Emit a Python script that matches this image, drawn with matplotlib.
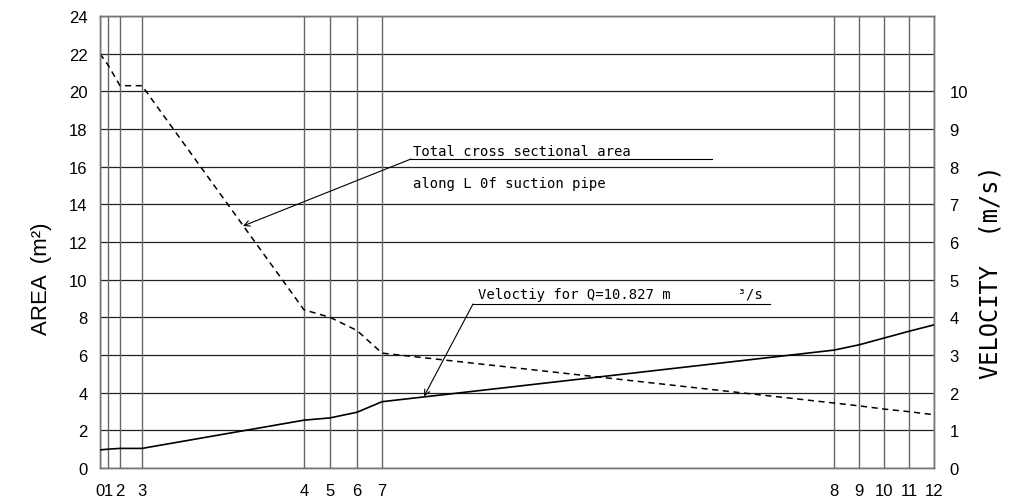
import numpy as np
import matplotlib
matplotlib.use("Agg")
import matplotlib.pyplot as plt

# station positions along the pipe (arbitrary length units) and labels
station_x = [0, 8, 20, 42, 204, 230, 257, 282, 734, 759, 784, 809, 834]
station_lbl = ["0", "1", "2", "3", "4", "5", "6", "7", "8", "9", "10", "11", "12"]

# total cross sectional area (m2) at each station
area = [22.0, 21.4, 20.3, 20.3, 8.4, 8.0, 7.3, 6.1, 3.45, 3.3, 3.13, 2.99, 2.83]
# velocity (m/s) at each station
velocity = [0.48, 0.50, 0.52, 0.52, 1.27, 1.33, 1.48, 1.76, 3.13, 3.27, 3.45, 3.63, 3.80]

area_ticks = list(range(0, 25, 2))
vel_ticks = list(range(0, 11))

W, H = 1013, 502
fig = plt.figure(figsize=(W / 100, H / 100), dpi=100)
ax = fig.add_axes([100 / W, 1 - 469 / H, (934 - 100) / W, (469 - 17) / H])
ax2 = ax.twinx()

tick_font = dict(family="Liberation Sans", size=12)

# grid
for y in area_ticks:
    ax.axhline(y, color="#222222", lw=0.9, zorder=1)
for x in station_x:
    ax.axvline(x, color="#666666", lw=1.0, zorder=1)

ax.plot(station_x, area, color="black", lw=1.1, ls=(0, (4, 3)), zorder=3)
ax2.plot(station_x, velocity, color="black", lw=1.2, zorder=3)

ax.set_xlim(station_x[0], station_x[-1])
ax.set_ylim(0, 24)
ax2.set_ylim(0, 12)

ax.set_xticks(station_x)
ax.set_xticklabels(station_lbl, fontdict=tick_font)
ax.set_yticks(area_ticks)
ax.set_yticklabels([str(v) for v in area_ticks], fontdict=tick_font)
ax2.set_yticks(vel_ticks)
ax2.set_yticklabels([str(v) for v in vel_ticks], fontdict=tick_font)

ax.tick_params(axis="x", length=0, pad=11)
ax.tick_params(axis="y", length=0, pad=9)
ax2.tick_params(axis="y", length=0, pad=11)

for a in (ax, ax2):
    for s in a.spines.values():
        s.set_color("#777777")
        s.set_linewidth(1.0)

fig.text(42 / W, 1 - 279 / H, "AREA  (m²)", rotation=90, ha="center", va="center",
         family="Liberation Sans", fontsize=16)
fig.text(990 / W, 1 - 272 / H, "VELOCITY  (m/s)", rotation=90, ha="center", va="center",
         family="DejaVu Sans Mono", fontsize=17)

# annotations (pixel-placed in figure coordinates)
def px(x, y):
    return (x / W, 1 - y / H)

mono = dict(family="DejaVu Sans Mono", fontsize=10)
fig.text(*px(413, 152), "Total cross sectional area", va="center", ha="left", **mono)
fig.text(*px(413, 184), "along L 0f suction pipe", va="center", ha="left", **mono)
fig.add_artist(plt.Line2D([410 / W, 712 / W], [1 - 160 / H, 1 - 160 / H], color="black", lw=0.8))
ax.annotate("", xy=(143, 12.85), xycoords="data", xytext=px(411, 160), textcoords="figure fraction",
            arrowprops=dict(arrowstyle="->", color="black", lw=0.8, shrinkA=0, shrinkB=0))

fig.text(*px(478, 295), "Veloctiy for Q=10.827 m        ³/s", va="center", ha="left", **mono)
fig.add_artist(plt.Line2D([473 / W, 770 / W], [1 - 305 / H, 1 - 305 / H], color="black", lw=0.8))
ax2.annotate("", xy=(324, 1.9), xycoords="data", xytext=px(473, 305), textcoords="figure fraction",
             arrowprops=dict(arrowstyle="->", color="black", lw=0.8, shrinkA=0, shrinkB=0))

fig.savefig("out.png", dpi=100)
